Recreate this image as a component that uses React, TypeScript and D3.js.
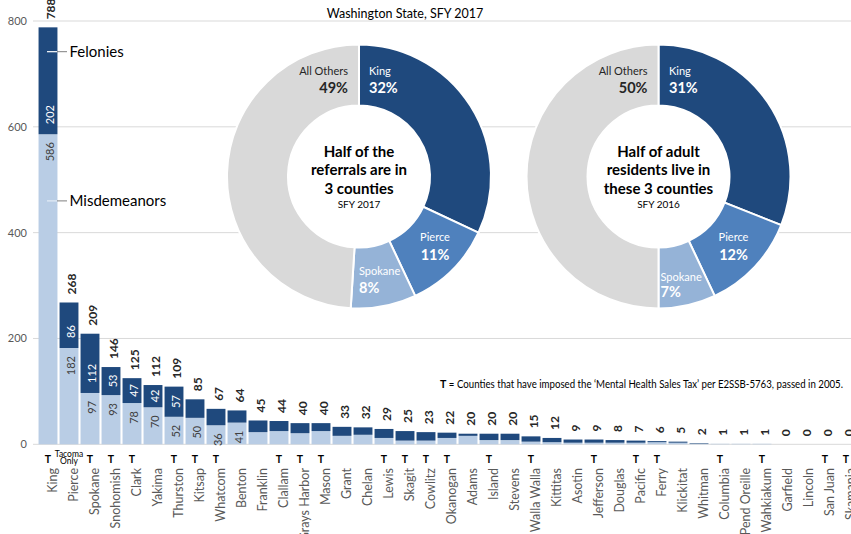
import React from "react";
import * as d3 from "d3";

const counties = ["King","Pierce","Spokane","Snohomish","Clark","Yakima","Thurston","Kitsap","Whatcom","Benton","Franklin","Clallam","Grays Harbor","Mason","Grant","Chelan","Lewis","Skagit","Cowlitz","Okanogan","Adams","Island","Stevens","Walla Walla","Kittitas","Asotin","Jefferson","Douglas","Pacific","Ferry","Klickitat","Whitman","Columbia","Pend Oreille","Wahkiakum","Garfield","Lincoln","San Juan","Skamania"];
const misdemeanors = [586,182,97,93,78,70,52,50,36,41,23,25,21,25,16,18,12,7,7,12,16,8,8,5,4,3,3,3,3,4,3,1,1,1,1,0,0,0,0];
const felonies = [202,86,112,53,47,42,57,35,31,23,22,19,19,15,17,14,17,18,16,10,4,12,12,10,8,6,6,5,4,2,2,1,0,0,0,0,0,0,0];
const taxCounties = ["King","Spokane","Snohomish","Clark","Thurston","Kitsap","Whatcom","Clallam","Grays Harbor","Mason","Lewis","Skagit","Cowlitz","Okanogan","Island","Walla Walla","Jefferson","Pacific","Ferry","Columbia","Wahkiakum","San Juan","Skamania"];
const yTicks = [0,200,400,600,800];

const sliceNames = ["King","Pierce","Spokane","All Others"];
const referralShares = [32,11,8,49];
const residentShares = [31,12,7,50];
const referralCenterText = ["Half of the","referrals are in","3 counties"];
const residentCenterText = ["Half of adult","residents live in","these 3 counties"];

const DARK = "#1f497d";
const LIGHT = "#b9cde5";
const sliceColors = [DARK, "#4f81bd", "#95b3d7", "#d9d9d9"];
const FONT = "Lato, 'Open Sans', sans-serif";

const W = 851, H = 534;

function Donut({ cx, cy, shares, centerText, sfy, labelPos }: any) {
  const pie = d3.pie<number>().sort(null).value((d) => d)(shares);
  const arc = d3.arc<any>().innerRadius(71).outerRadius(132);
  return (
    <g transform={`translate(${cx},${cy})`}>
      <circle r={132} fill="#fff" />
      {pie.map((p, i) => (
        <path key={i} d={arc(p) as string} fill={sliceColors[i]} stroke="#fff" strokeWidth={2} />
      ))}
      {pie.map((p, i) => {
        const lp = labelPos[i];
        const fill = i === 3 ? "#262626" : "#fff";
        const nameFill = i === 3 ? "#262626" : "#fff";
        return (
          <g key={"l" + i}>
            <text x={lp[0]} y={lp[1]} textAnchor={lp[2]} fontSize={11} fill={nameFill} fontFamily={FONT}>{sliceNames[i]}</text>
            <text x={lp[0]} y={lp[1] + lp[3]} textAnchor={lp[2]} fontSize={14.5} fontWeight="bold" fill={fill} fontFamily={FONT}>{shares[i]}%</text>
          </g>
        );
      })}
      {centerText.map((t: string, i: number) => (
        <text key={t} x={0} y={-20 + i * 18.7} textAnchor="middle" fontSize={15} fontWeight="bold" fill="#000" fontFamily={FONT}>{t}</text>
      ))}
      <text x={0} y={31.5} textAnchor="middle" fontSize={10} fill="#000" fontFamily={FONT}>{sfy}</text>
    </g>
  );
}

export default function App() {
  const y = d3.scaleLinear().domain([0, 800]).range([444.3, 21]);
  const x = d3.scaleBand<string>().domain(counties).range([37.5, 37.5 + 21 * counties.length]).paddingInner(0.1).paddingOuter(0.05);
  const bw = x.bandwidth();
  const cxOf = (c: string) => (x(c) as number) + bw / 2;

  return (
    <svg width={W} height={H} style={{ position: "absolute", left: 0, top: 0, background: "#fff" }} fontFamily={FONT}>
      {/* gridlines */}
      {yTicks.map((t) => (
        <line key={t} x1={33} x2={W} y1={y(t)} y2={y(t)} stroke={t === 0 ? "#d9d9d9" : "#d9d9d9"} strokeWidth={1} />
      ))}
      {yTicks.map((t) => (
        <text key={"t" + t} x={27} y={y(t)} dy="0.35em" textAnchor="end" fontSize={11} fill="#595959">{t}</text>
      ))}
      <text x={405} y={18} textAnchor="middle" fontSize={12.5} fill="#000">Washington State, SFY 2017</text>

      {/* donuts */}
      <Donut cx={359} cy={176.5} shares={referralShares} centerText={referralCenterText} sfy="SFY 2017"
        labelPos={[[10, -101.5, "start", 17.5], [76, 64.5, "middle", 18.5], [0, 98.5, "start", 18], [-11, -101.5, "end", 17.5]]} />
      <Donut cx={658.5} cy={176.5} shares={residentShares} centerText={residentCenterText} sfy="SFY 2016"
        labelPos={[[10.5, -101.5, "start", 17.5], [75, 64.5, "middle", 18.5], [2, 104, "start", 16.5], [-11, -101.5, "end", 17.5]]} />

      {/* bars */}
      {counties.map((c, i) => {
        const m = misdemeanors[i], f = felonies[i];
        const x0 = x(c) as number;
        return (
          <g key={c}>
            {m > 0 && <rect x={x0} width={bw} y={y(m)} height={y(0) - y(m)} fill={LIGHT} />}
            {f > 0 && <rect x={x0} width={bw} y={y(m + f)} height={y(m) - y(m + f)} fill={DARK} />}
          </g>
        );
      })}

      {/* legend annotations */}
      <line x1={47} x2={57} y1={y(742)} y2={y(742)} stroke="#fff" strokeWidth={1.2} />
      <line x1={57} x2={67} y1={y(742)} y2={y(742)} stroke="#7f7f7f" strokeWidth={1} />
      <text x={69.5} y={y(742)} dy="0.35em" fontSize={15} fill="#000">Felonies</text>
      <line x1={47} x2={57} y1={y(460)} y2={y(460)} stroke="#e4ecf6" strokeWidth={1.2} />
      <line x1={57} x2={67} y1={y(460)} y2={y(460)} stroke="#7f7f7f" strokeWidth={1} />
      <text x={69.5} y={y(460)} dy="0.35em" fontSize={15} fill="#000">Misdemeanors</text>

      {/* value labels */}
      {counties.map((c, i) => {
        const m = misdemeanors[i], f = felonies[i], tot = m + f;
        const lx = cxOf(c) + 2.5;
        const items: any[] = [];
        items.push(
          <text key="tot" transform={`translate(${lx},${y(tot) - 8}) rotate(-90)`} dy="0.35em" textAnchor="start" fontSize={12} fontWeight="bold" fill="#262626">{tot}</text>
        );
        if (m >= 30) {
          items.push(
            <text key="m" transform={`translate(${lx},${y(m) + 8}) rotate(-90)`} dy="0.35em" textAnchor="end" fontSize={11} fill="#404040">{m}</text>
          );
        }
        if (f >= 40) {
          const len = String(f).length * 6.2;
          const bottom = y(m), top = y(tot);
          const start = Math.max(bottom - 10, (bottom + top) / 2 + len / 2);
          items.push(
            <text key="f" transform={`translate(${lx},${start}) rotate(-90)`} dy="0.35em" textAnchor="start" fontSize={11} fill="#fff">{f}</text>
          );
        }
        return <g key={"v" + c}>{items}</g>;
      })}

      {/* T markers */}
      {taxCounties.map((c) => (
        <text key={"T" + c} x={cxOf(c)} y={463} textAnchor="middle" fontSize={10.5} fontWeight="bold" fill="#000">T</text>
      ))}
      <text x={cxOf("Pierce")} y={457} textAnchor="middle" fontSize={8.5} fill="#000">Tacoma</text>
      <text x={cxOf("Pierce")} y={463.5} textAnchor="middle" fontSize={8.5} fill="#000">Only</text>

      {/* x labels */}
      {counties.map((c) => (
        <text key={"x" + c} transform={`translate(${cxOf(c) + 4.5},468) rotate(-90)`} dy="0.35em" textAnchor="end" fontSize={12.5} fill="#595959">{c}</text>
      ))}

      {/* footnote */}
      <text x={440} y={388} fontSize={10.5} fill="#000" textLength={403} lengthAdjust="spacingAndGlyphs">
        <tspan fontWeight="bold" fontSize={11.5}>T</tspan> = Counties that have imposed the ‘Mental Health Sales Tax’ per E2SSB-5763, passed in 2005.
      </text>
    </svg>
  );
}
